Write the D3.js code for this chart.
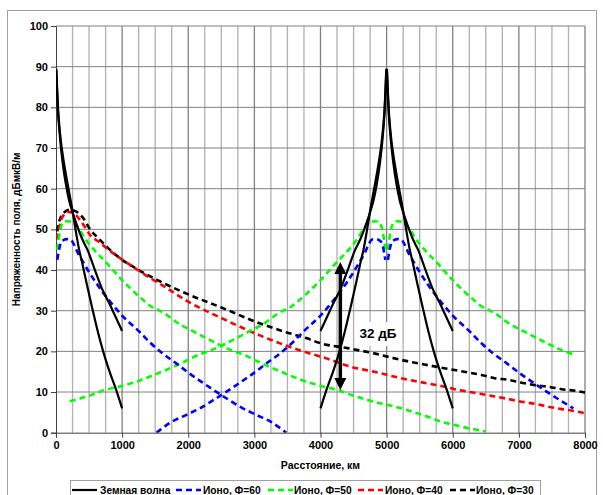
<!DOCTYPE html>
<html><head><meta charset="utf-8">
<script src="https://cdn.jsdelivr.net/npm/d3@7"></script>
<style>body{margin:0;background:#fff}svg{display:block}text{font-family:"Liberation Sans",Arial,sans-serif}</style>
</head><body><svg id="c" width="603" height="495"></svg>
<script>
// ---- data ----
const xTicks = [0,1000,2000,3000,4000,5000,6000,7000,8000];
const yTicks = [0,10,20,30,40,50,60,70,80,90,100];
const transmitters = [0, 5000];
// ground wave, [distance from transmitter km, dBµV/m]
const groundSteep = [[5,89.5],[15,85.5],[30,80],[50,75.5],[75,71.5],[100,68.5],[150,63.5],[200,59],[250,54.5],[300,49.5],[350,45],[400,41.5],[466,36.5],[550,30.5],[630,25],[713,20],[800,15.5],[921,10],[1000,6]];
const groundShallow = [[5,89],[15,84.5],[30,79],[50,74.5],[75,70],[100,66.5],[150,61],[200,57],[250,54.2],[300,51.8],[400,47.5],[475,45],[600,39.5],[693,35.5],[800,32],[900,28.5],[1000,25]];
// ionospheric wave, [distance km, dBµV/m]
const iono60 = [[20,42.5],[40,44.5],[60,46],[100,47.2],[160,47.6],[220,47.5],[280,46],[330,44.2],[390,42.5],[500,39.5],[600,37],[800,32.6],[1000,28.8],[1250,25],[1434,22],[1611,19.5],[1813,17.1],[2015,14.6],[2218,12.3],[2420,10.1],[2622,8.0],[2824,6.0],[3027,4.4],[3247,2.7],[3425,0.7],[3480,0]];
const iono50 = [[20,45],[40,47.5],[60,49.5],[100,51.5],[160,52],[250,51.8],[350,50],[450,47.5],[600,44.5],[750,42],[850,40.2],[1000,37.5],[1257,33.5],[1434,31.1],[1636,29.4],[1839,27],[2041,25.2],[2243,23.5],[2446,21.8],[2648,20.3],[2850,19.1],[3027,17.7],[3400,15],[3795,12.5],[4050,11.3],[4260,10.5],[4460,9.3],[4790,7.7],[5220,6.0],[5625,3.9],[5827,2.7],[6030,1.9],[6232,1.1],[6434,0.5],[6500,0.2]];
const iono40 = [[20,47.5],[35,49],[86,52.7],[187,54.3],[263,54],[364,52.3],[440,50.5],[516,48.6],[642,47],[769,45.3],[971,42.9],[1199,40.4],[1426,38],[1604,36.3],[2000,32.2],[2500,28.2],[3000,24.5],[3500,21.3],[3795,19.7],[4046,18.5],[4461,16.2],[4810,15],[5220,13.4],[5625,12.1],[5827,11.5],[6030,10.7],[6232,10.1],[6434,9.5],[6636,8.9],[6839,8.3],[7041,7.6],[7243,7.1],[7446,6.4],[7648,5.8],[7851,5.3],[8000,4.8]];
const iono30 = [[20,49.5],[40,51.5],[61,52.5],[111,54],[212,54.8],[314,54.3],[415,52.7],[516,50],[642,47.8],[769,45.7],[1000,42.5],[1250,40],[1500,37.8],[2000,34],[2500,30.8],[3000,27.4],[3500,24.6],[3795,23.2],[4000,22],[4407,20.8],[4810,19.5],[5220,17.9],[5625,16.6],[6030,15.4],[6232,14.8],[6434,14.2],[6636,13.4],[6839,13],[7041,12.3],[7243,11.7],[7446,11.3],[7648,10.7],[7851,10.3],[8000,9.9]];
// annotation
const gapDistance = 4300, gapLow = 10.5, gapHigh = 42, gapLabel = "32 дБ";
const legendLabels = ["Земная волна","Ионо, Ф=60","Ионо, Ф=50","Ионо, Ф=40","Ионо, Ф=30"];
const xTitle = "Расстояние, км", yTitle = "Напряженность поля, дБмкВ/м";

// ---- drawing ----
const svg = d3.select("#c");
const L=56, R=585, T=26, B=432.7;
const x = d3.scaleLinear().domain([0,8000]).range([L,R]);
const y = d3.scaleLinear().domain([0,100]).range([B,T]);

svg.append("rect").attr("x",7.5).attr("y",10.5).attr("width",589).attr("height",500).attr("fill","none").attr("stroke","#a0a0a0");

// grid
const g = svg.append("g");
g.selectAll(".vg").data(d3.range(250,8001,250)).join("line")
  .attr("x1",d=>x(d)).attr("x2",d=>x(d)).attr("y1",T).attr("y2",B)
  .attr("stroke",d=>d%1000===0?"#808080":"#b0b0b0").attr("stroke-width",1.3);
g.selectAll(".hg").data(yTicks.filter(v=>v>0)).join("line")
  .attr("x1",L).attr("x2",R).attr("y1",d=>y(d)).attr("y2",d=>y(d))
  .attr("stroke","#808080").attr("stroke-width",1);

// axes
const xa = svg.append("g").attr("transform",`translate(0,${B})`)
  .call(d3.axisBottom(x).tickValues(xTicks).tickSize(5).tickPadding(4).tickFormat(d3.format("d")));
const ya = svg.append("g").attr("transform",`translate(${L},0)`)
  .call(d3.axisLeft(y).tickValues(yTicks).tickSize(5).tickPadding(3));
[xa,ya].forEach(a=>{a.select(".domain").attr("stroke","#404040");a.selectAll("line").attr("stroke","#404040");
  a.selectAll("text").attr("font-size",11).attr("font-weight","bold").attr("fill","#000").attr("font-family","Liberation Sans, Arial");});

svg.append("defs").append("clipPath").attr("id","pc").append("rect").attr("x",L).attr("y",T-2).attr("width",R-L+2).attr("height",B-T+2);
const plot = svg.append("g").attr("clip-path","url(#pc)");
const line = d3.line().x(d=>x(d[0])).y(d=>y(d[1])).curve(d3.curveMonotoneX);

function place(arr, tx, side, maxR){ // side +1 to the right, -1 to the left
  let pts = arr.filter(p=>p[0]<=maxR).map(p=>[tx+side*p[0],p[1]]);
  pts.sort((a,b)=>a[0]-b[0]);
  return pts;
}
const dashed = "6,4";
function drawIono(arr,color,segments){
  segments.forEach(([tx,side,maxR])=>{
    plot.append("path").attr("d",line(place(arr,tx,side,maxR))).attr("fill","none")
      .attr("stroke",color).attr("stroke-width",2.6).attr("stroke-dasharray",dashed);
  });
}
drawIono(iono30,"#000000",[[0,1,8000]]);
drawIono(iono40,"#ff0000",[[0,1,8000]]);
drawIono(iono50,"#00ff00",[[0,1,8000],[5000,-1,4800],[5000,1,3000]]);
drawIono(iono60,"#0000ff",[[0,1,8000],[5000,-1,8000],[5000,1,3000]]);

[groundSteep,groundShallow].forEach(arr=>{
  [[0,1],[5000,-1],[5000,1]].forEach(([tx,side])=>{
    plot.append("path").attr("d",line(place(arr,tx,side,1000))).attr("fill","none")
      .attr("stroke","#000").attr("stroke-width",2.2);
  });
});

// annotation
const ax = x(gapDistance), ay1 = y(gapHigh), ay2 = y(gapLow);
svg.append("line").attr("x1",ax).attr("x2",ax).attr("y1",ay1+8).attr("y2",ay2-8).attr("stroke","#000").attr("stroke-width",3.5);
svg.append("path").attr("d",`M${ax},${ay1}L${ax-6},${ay1+12}L${ax+6},${ay1+12}Z`).attr("fill","#000");
svg.append("path").attr("d",`M${ax},${ay2}L${ax-6},${ay2-12}L${ax+6},${ay2-12}Z`).attr("fill","#000");
svg.append("rect").attr("x",357).attr("y",322).attr("width",43).attr("height",24).attr("fill","#fff");
svg.append("text").attr("x",378).attr("y",338).attr("text-anchor","middle").attr("font-family","Liberation Serif, Times New Roman, serif")
  .attr("font-weight","bold").attr("font-size",13.5).text(gapLabel);

// titles
svg.append("text").attr("x",(L+R)/2).attr("y",469).attr("text-anchor","middle").attr("font-size",10.5).attr("font-weight","bold").text(xTitle);
svg.append("text").attr("transform",`translate(20,${(T+B)/2}) rotate(-90)`).attr("text-anchor","middle").attr("font-size",10).attr("font-weight","bold").text(yTitle);

// legend
svg.append("rect").attr("x",70.5).attr("y",480.5).attr("width",470).attr("height",30).attr("fill","#fff").attr("stroke","#a0a0a0");
const legColors = ["#000","#0000ff","#00ff00","#ff0000","#000"];
const legLineX = [72,176,268,358,450];
const legTextX = [100,203,294,385,476];
legendLabels.forEach((lab,i)=>{
  svg.append("line").attr("x1",legLineX[i]).attr("x2",legLineX[i]+25).attr("y1",490).attr("y2",490).attr("stroke",legColors[i])
    .attr("stroke-width",i===0?2.2:2.6).attr("stroke-dasharray",i===0?null:dashed);
  svg.append("text").attr("x",legTextX[i]).attr("y",494).attr("font-size",10.2).attr("font-weight","bold").text(lab);
});
</script></body></html>
